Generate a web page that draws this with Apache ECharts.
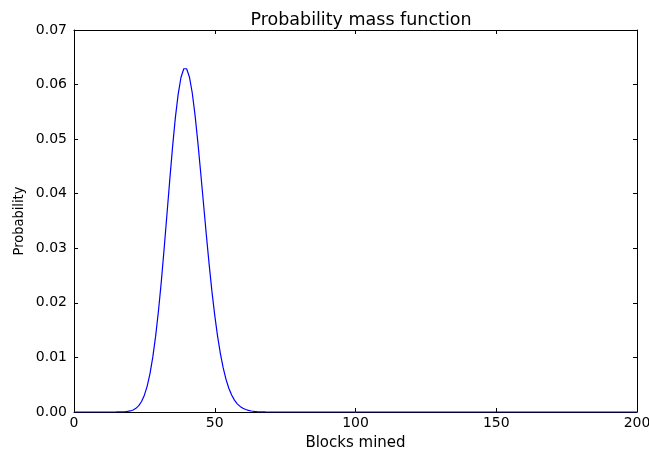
<!DOCTYPE html>
<html><head><meta charset="utf-8">
<script src="https://cdn.jsdelivr.net/npm/echarts@6/dist/echarts.min.js"></script>
<style>html,body{margin:0;padding:0;background:#fff}#c{width:649px;height:450px}</style>
</head><body><div id="c"></div>
<script>
var blocks = [0, 10, 15, 16, 17, 18, 19, 20, 21, 22, 23, 24, 25, 26, 27, 28, 29, 30, 31, 32, 33, 34, 35, 36, 37, 38, 39, 40, 41, 42, 43, 44, 45, 46, 47, 48, 49, 50, 51, 52, 53, 54, 55, 56, 57, 58, 59, 60, 61, 62, 63, 64, 65, 66, 68, 70, 80, 100, 150, 200];
var probability = [0, 0, 0.000005, 0.00001, 0.00002, 0.00005, 0.0001, 0.00019, 0.00037, 0.00067, 0.00116, 0.00193, 0.00309, 0.00475, 0.00704, 0.0101, 0.0139, 0.0185, 0.0238, 0.0298, 0.0361, 0.0424, 0.0485, 0.0539, 0.0582, 0.0613, 0.0629, 0.0629, 0.0614, 0.0585, 0.0544, 0.0494, 0.0439, 0.0382, 0.0325, 0.0271, 0.0221, 0.0177, 0.0139, 0.0107, 0.00807, 0.00598, 0.00435, 0.00311, 0.00218, 0.0015, 0.00102, 0.00068, 0.00045, 0.00029, 0.00018, 0.00011, 0.00007, 0.00004, 0.00001, 0, 0, 0, 0, 0];
var xTicks = [0, 50, 100, 150, 200];
var yTicks = ['0.00', '0.01', '0.02', '0.03', '0.04', '0.05', '0.06', '0.07'];

var font = 'DejaVu Sans';
var pts = blocks.map(function (b, i) { return [b, probability[i]]; });
var chart = echarts.init(document.getElementById('c'), null, {renderer: 'canvas'});
var axisLine = {show: true, onZero: false, lineStyle: {color: '#000', width: 1}};
var tick = {show: true, inside: true, length: 4, lineStyle: {color: '#000'}};
chart.setOption({
  animation: false,
  title: {text: 'Probability mass function', left: 356, textAlign: 'center', top: 6,
    textStyle: {fontFamily: font, fontSize: 17.5, fontWeight: 'normal', color: '#000'}},
  grid: {left: 74, top: 30, right: 12, bottom: 38, containLabel: false, outerBoundsMode: 'none'},
  xAxis: [{
    type: 'value', min: 0, max: 200, interval: 50, position: 'bottom',
    name: 'Blocks mined', nameLocation: 'middle', nameGap: 24, nameMoveOverlap: false,
    nameTextStyle: {fontFamily: font, fontSize: 15, color: '#000'},
    axisLine: axisLine, axisTick: tick, splitLine: {show: false},
    axisLabel: {fontFamily: font, fontSize: 14, color: '#000', margin: 4,
      formatter: function (v) { return xTicks.indexOf(v) >= 0 ? String(v) : ''; }}
  }, {
    type: 'value', min: 0, max: 200, interval: 50, position: 'top',
    axisLine: axisLine, axisTick: tick, axisLabel: {show: false}, splitLine: {show: false}
  }],
  yAxis: [{
    type: 'value', min: 0, max: 0.07, interval: 0.01, position: 'left',
    name: 'Probability', nameLocation: 'middle', nameGap: 47, nameMoveOverlap: false,
    nameTextStyle: {fontFamily: 'DejaVu Sans Condensed', fontSize: 14.5, color: '#000'},
    axisLine: axisLine, axisTick: tick, splitLine: {show: false},
    axisLabel: {fontFamily: font, fontSize: 14, color: '#000', margin: 7,
      formatter: function (v) { return yTicks[Math.round(v * 100)]; }}
  }, {
    type: 'value', min: 0, max: 0.07, interval: 0.01, position: 'right',
    axisLine: axisLine, axisTick: tick, axisLabel: {show: false}, splitLine: {show: false}
  }],
  series: [{
    type: 'line', data: pts, showSymbol: false, symbol: 'none',
    lineStyle: {color: '#0000ff', width: 1.2}, xAxisIndex: 0, yAxisIndex: 0
  }]
});
</script></body></html>
